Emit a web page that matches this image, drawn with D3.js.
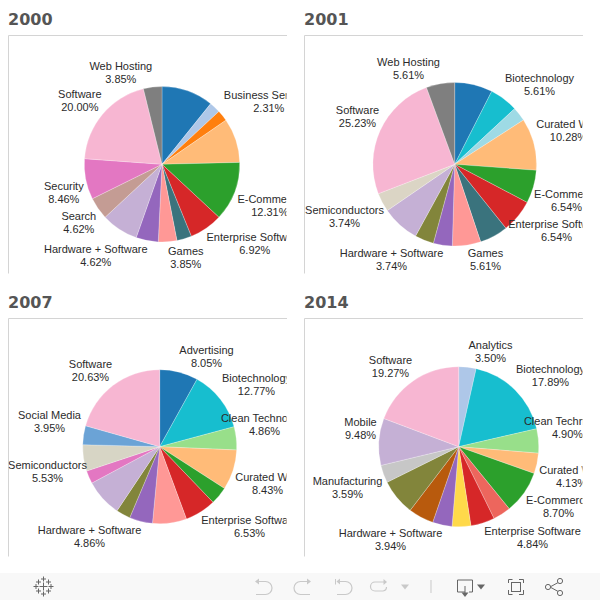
<!DOCTYPE html>
<html><head><meta charset="utf-8">
<script src="https://cdn.jsdelivr.net/npm/d3@7"></script>
<style>html,body{margin:0;padding:0;background:#fff;overflow:hidden}svg{display:block}</style>
</head><body><svg id="c" width="600" height="600"></svg>
<script>
// Data: slice names (null = slice carries no label in the picture), shares in percent
const years = ["2000","2001","2007","2014"];
const names2000 = [null,null,"Business Services",null,"E-Commerce","Enterprise Software",null,"Games","Hardware + Software",null,"Search","Security","Software","Web Hosting"];
const values2000 = [10.77,2.31,2.31,9.23,12.31,6.92,3.08,3.85,4.62,7.69,4.62,8.46,20.0,3.85];
const names2001 = [null,"Biotechnology",null,"Curated Web","E-Commerce","Enterprise Software",null,"Games",null,"Hardware + Software",null,"Semiconductors","Software","Web Hosting"];
const values2001 = [7.48,5.61,2.80,10.28,6.54,6.54,5.61,5.61,3.74,3.74,7.48,3.74,25.23,5.61];
const names2007 = ["Advertising","Biotechnology","Clean Technology","Curated Web",null,"Enterprise Software",null,"Hardware + Software",null,null,null,"Semiconductors","Social Media","Software"];
const values2007 = [8.05,12.77,4.86,8.43,3.72,6.53,7.14,4.86,2.99,7.82,2.72,5.53,3.95,20.63];
const names2014 = ["Analytics","Biotechnology","Clean Technology","Curated Web","E-Commerce",null,"Enterprise Software",null,"Hardware + Software",null,null,"Manufacturing","Mobile","Software"];
const values2014 = [3.50,17.89,4.90,4.13,8.70,3.60,4.84,3.77,3.94,5.10,7.29,3.59,9.48,19.27];

// Styling: slice colours per panel
const colors2000 = ["#1f77b4","#aec7e8","#ff7f0e","#ffbb78","#2ca02c","#d62728","#3a737d","#ff9896","#9467bd","#c5b0d5","#c49c94","#e377c2","#f7b6d2","#7f7f7f"];
const colors2001 = ["#1f77b4","#17becf","#9edae5","#ffbb78","#2ca02c","#d62728","#3a737d","#ff9896","#9467bd","#82853b","#c5b0d5","#dbd5c5","#f7b6d2","#7f7f7f"];
const colors2007 = ["#1f77b4","#17becf","#98df8a","#ffbb78","#2ca02c","#d62728","#ff9896","#9467bd","#82853b","#c5b0d5","#e377c2","#d7d5c5","#6ba3d6","#f7b6d2"];
const colors2014 = ["#aec7e8","#17becf","#98df8a","#ffbb78","#2ca02c","#ed665d","#d62728","#ffd94a","#9467bd","#b85a0d","#82853b","#c7c7c7","#c5b0d5","#f7b6d2"];

// Layout: panel frames, pie geometry, and label offsets from the pie centre (keyed by label)
const panels = [
 {x:8.5,  y:35.5,  w:279, h:238, cx:162,   cy:164.3, r:77.7, shift:[0.8,0], names:names2000, values:values2000, colors:colors2000,
  off:{"Web Hosting":[-42,-98],"Software":[-83,-70],"Security":[-99,22],"Search":[-84,52],"Hardware + Software":[-67,85],"Games":[23,87],"Enterprise Software":[92,73],"E-Commerce":[107,35],"Business Services":[106,-69]}},
 {x:304.5,y:35.5,  w:279, h:238, cx:454.7, cy:164.3, r:81.8, shift:[0.8,0], names:names2001, values:values2001, colors:colors2001,
  off:{"Web Hosting":[-47,-102],"Biotechnology":[84,-86],"Curated Web":[113,-40],"E-Commerce":[111,30],"Enterprise Software":[101,60],"Games":[30,89],"Hardware + Software":[-64,89],"Semiconductors":[-111,46],"Software":[-98,-54]}},
 {x:8.5,  y:318.5, w:279, h:238, cx:159.7, cy:446.7, r:77,   shift:[0.8,-1], names:names2007, values:values2007, colors:colors2007,
  off:{"Advertising":[46,-96],"Biotechnology":[96,-68],"Clean Technology":[104,-28],"Curated Web":[107,31],"Enterprise Software":[89,74],"Hardware + Software":[-71,84],"Semiconductors":[-113,19],"Social Media":[-111,-31],"Software":[-70,-82]}},
 {x:304.5,y:318.5, w:279, h:238, cx:458.7, cy:446.7, r:80,   shift:[0.8,-1], names:names2014, values:values2014, colors:colors2014,
  off:{"Analytics":[31,-101],"Biotechnology":[91,-77],"Clean Technology":[108,-25],"Curated Web":[112,24],"E-Commerce":[99,54],"Enterprise Software":[73,85],"Hardware + Software":[-69,87],"Manufacturing":[-112,35],"Mobile":[-99,-24],"Software":[-69,-86]}}
];

const svg = d3.select("#c");
const defs = svg.append("defs");
const pie = d3.pie().sort(null).value(d => d);

panels.forEach((p,i) => {
  const g = svg.append("g");
  g.append("text").attr("x",p.x-0.5).attr("y",p.y-10.5)
    .attr("font-family","'DejaVu Sans'").attr("font-weight","bold").attr("font-size",16)
    .attr("fill","#555").text(years[i]);
  g.append("path").attr("d",`M${p.x},${p.y+p.h}V${p.y}H${p.x+p.w-0.5}`)
    .attr("fill","none").attr("stroke","#d4d4d4").attr("stroke-width",1);
  const id = "clip"+i;
  defs.append("clipPath").attr("id",id).append("rect")
    .attr("x",p.x).attr("y",p.y).attr("width",p.w-1).attr("height",p.h);
  const body = g.append("g").attr("clip-path",`url(#${id})`);
  const pg = body.append("g").attr("transform",`translate(${p.cx},${p.cy})`);
  const arc = d3.arc().innerRadius(0).outerRadius(p.r);
  pg.selectAll("path").data(pie(p.values)).join("path")
    .attr("d",arc).attr("fill",(d,j)=>p.colors[j])
    .attr("stroke","#fff").attr("stroke-width",0.35).attr("stroke-opacity",0.7);
  const labelled = p.values.map((v,j)=>({v,name:p.names[j]})).filter(d=>d.name);
  const lab = pg.selectAll("g.l").data(labelled).join("g").attr("class","l")
    .attr("transform",d=>`translate(${p.off[d.name][0]+p.shift[0]},${p.off[d.name][1]+p.shift[1]})`)
    .attr("font-family","'Liberation Sans'").attr("font-size",11).attr("fill","#2b2b2b").attr("text-anchor","middle");
  lab.append("text").attr("y",4).text(d=>d.name);
  lab.append("text").attr("y",17).text(d=>d3.format(".2f")(d.v)+"%");
});

// Viewer toolbar
const tb = svg.append("g");
tb.append("rect").attr("x",0).attr("y",573).attr("width",600).attr("height",27).attr("fill","#f8f8f8");
// logo: small plus marks
const plus = [[43.5,586.5,4],[43.5,579,2.5],[43.5,594,2.5],[36,586.5,2.5],[51,586.5,2.5],[38.5,582,2.5],[48.5,582,2.5],[38.5,591,2.5],[48.5,591,2.5]];
tb.selectAll("path.p").data(plus).join("path").attr("class","p")
  .attr("d",d=>`M${d[0]-d[2]},${d[1]}H${d[0]+d[2]}M${d[0]},${d[1]-d[2]}V${d[1]+d[2]}`)
  .attr("stroke","#666").attr("stroke-width",1).attr("fill","none");
const grey = "#c9c9c9", dark = "#666";
const line = (d,c,w=1)=>tb.append("path").attr("d",d).attr("fill","none").attr("stroke",c).attr("stroke-width",w);
const fill = (d,c)=>tb.append("path").attr("d",d).attr("fill",c);
// undo / redo / revert / refresh
line("M256,581.5H265.5a5.5,5.5 0 0 1 0,13H256",grey,1.2); fill("M255,581.5L259,578.5V584.5Z",grey);
line("M310,581.5H300.5a5.5,5.5 0 0 0 0,13H310",grey,1.2); fill("M311,581.5L307,578.5V584.5Z",grey);
line("M337,581.5H345.5a5.5,5.5 0 0 1 0,13H337",grey,1.2); fill("M336.5,581.5L340,578.5V584.5Z",grey); line("M335.5,579V584.5",grey,1);
line("M386,582H375a4,4 0 0 0 0,9H383a4,4 0 0 0 3.5,-4",grey,1.2); fill("M387,582L383.5,579V585Z",grey);
fill("M401,584.5H409L405,589.5Z",grey);
line("M431,580V593","#c9c9c9",1);
// download
line("M465,592H457.5V580H472.5V592H469M465,586V594",dark,1); fill("M461.5,592.5H468.5L465,597Z",dark);
fill("M477,584.5H485L481,589.5Z",dark);
// fit
line("M508.5,583V579.5H512.5M519,579.5H523.5V583M523.5,590V594.5H519M512.5,594.5H508.5V590",dark,1);
tb.append("rect").attr("x",511.5).attr("y",582.5).attr("width",9).attr("height",9).attr("fill","none").attr("stroke",dark);
// share
line("M550,587L560,581.5M550,587L560,592.5",dark,1);
[[548,587],[560,581],[560,593]].forEach(c=>tb.append("circle").attr("cx",c[0]).attr("cy",c[1]).attr("r",2.6).attr("fill","#f8f8f8").attr("stroke",dark));
</script></body></html>
